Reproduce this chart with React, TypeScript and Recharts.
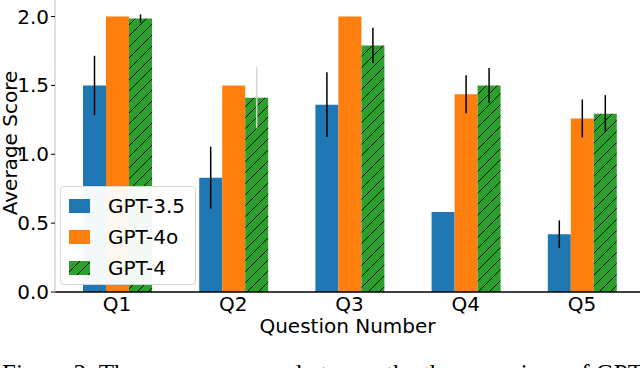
import React from 'react';
import {
  BarChart,
  Bar,
  XAxis,
  YAxis,
  ErrorBar,
  Legend,
} from 'recharts';

const categories = ['Q1', 'Q2', 'Q3', 'Q4', 'Q5'];
const gpt35 = [1.5, 0.83, 1.36, 0.58, 0.42];
const gpt35Err = [0.215, 0.225, 0.235, 0, 0.1];
const gpt4o = [2.0, 1.5, 2.0, 1.435, 1.26];
const gpt4oErr = [0, 0, 0, 0.138, 0.138];
const gpt4 = [1.985, 1.41, 1.79, 1.5, 1.295];
const gpt4Err = [0.03, 0, 0.128, 0.127, 0.134];
// Q2 / GPT-4 whisker is drawn very faint in the source
const gpt4ErrFaint = [0, 0.222, 0, 0, 0];
const yTicks = [0, 0.5, 1.0, 1.5, 2.0];

const BLUE = '#1f77b4';
const ORANGE = '#ff7f0e';
const GREEN = '#2ca02c';
const FONT = '"DejaVu Sans", Verdana, sans-serif';
const FS = 20;

const data = categories.map((q, i) => ({
  q,
  gpt35: gpt35[i],
  gpt35Err: gpt35Err[i],
  gpt4o: gpt4o[i],
  gpt4oErr: gpt4oErr[i],
  gpt4: gpt4[i],
  gpt4Err: gpt4Err[i],
  gpt4ErrFaint: gpt4ErrFaint[i],
}));

const legendItems = [
  { name: 'GPT-3.5', fill: BLUE },
  { name: 'GPT-4o', fill: ORANGE },
  { name: 'GPT-4', fill: 'url(#hatchLegend)' },
];

function HatchDef({ id }: { id: string }) {
  return (
    <pattern id={id} patternUnits="userSpaceOnUse" width={11} height={11}>
      <rect width={11} height={11} fill={GREEN} />
      <path
        d="M0,11 L11,0 M-2.75,2.75 L2.75,-2.75 M8.25,13.75 L13.75,8.25"
        stroke="#000"
        strokeWidth={0.9}
      />
    </pattern>
  );
}

function LegendBox() {
  return (
    <div
      style={{
        width: 136,
        height: 99,
        boxSizing: 'border-box',
        border: '1px solid #d6d6d6',
        borderRadius: 4,
        background: 'rgba(255,255,255,0.95)',
        fontFamily: FONT,
        fontSize: FS,
        color: '#000',
        paddingTop: 3,
      }}
    >
      {legendItems.map((it) => (
        <div
          key={it.name}
          style={{ display: 'flex', alignItems: 'center', height: 31 }}
        >
          <svg width={21} height={14} style={{ marginLeft: 8, marginRight: 18 }}>
            <defs>
              <HatchDef id="hatchLegend" />
            </defs>
            <rect width={21} height={14} fill={it.fill} />
          </svg>
          <span>{it.name}</span>
        </div>
      ))}
    </div>
  );
}

export default function App() {
  return (
    <div style={{ position: 'absolute', left: 0, top: 0, width: 640, height: 368, overflow: 'hidden', background: '#fff' }}>
      <BarChart
        width={640}
        height={340}
        data={data}
        margin={{ top: 0, right: 0, bottom: 0, left: 0 }}
        barSize={23}
        barGap={0}
      >
        <defs>
          <HatchDef id="hatchBar" />
        </defs>
        <XAxis
          dataKey="q"
          height={48}
          padding={{ left: 4, right: 0 }}
          tickLine={false}
          tickSize={0}
          tickMargin={5}
          axisLine={{ stroke: '#000', strokeWidth: 1.3 }}
          tick={{ fill: '#000', fontSize: FS, fontFamily: FONT }}
          label={{
            content: ({ viewBox }: any) => (
              <text
                x={viewBox.x + viewBox.width / 2}
                y={viewBox.y + 34}
                textAnchor="middle"
                dominantBaseline="central"
                fontSize={FS}
                fontFamily={FONT}
                fill="#000"
              >
                Question Number
              </text>
            ),
          }}
        />
        <YAxis
          width={55}
          domain={[0, 2.12]}
          ticks={yTicks}
          allowDataOverflow
          tickSize={4}
          tickMargin={2}
          tickFormatter={(v: number) => v.toFixed(1)}
          axisLine={{ stroke: '#d0d0d0', strokeWidth: 1.3 }}
          tickLine={{ stroke: '#000' }}
          tick={{ fill: '#000', fontSize: FS, fontFamily: FONT }}
          label={{
            content: ({ viewBox }: any) => {
              const cx = 10;
              const cy = viewBox.y + viewBox.height / 2 - 3;
              return (
                <text
                  x={cx}
                  y={cy}
                  transform={`rotate(-90 ${cx} ${cy})`}
                  textAnchor="middle"
                  dominantBaseline="central"
                  fontSize={FS}
                  fontFamily={FONT}
                  fill="#000"
                >
                  Average Score
                </text>
              );
            },
          }}
        />
        <Bar dataKey="gpt35" name="GPT-3.5" fill={BLUE} isAnimationActive={false}>
          <ErrorBar dataKey="gpt35Err" width={0} stroke="#000" strokeWidth={1.5} direction="y" />
        </Bar>
        <Bar dataKey="gpt4o" name="GPT-4o" fill={ORANGE} isAnimationActive={false}>
          <ErrorBar dataKey="gpt4oErr" width={0} stroke="#000" strokeWidth={1.5} direction="y" />
        </Bar>
        <Bar dataKey="gpt4" name="GPT-4" fill="url(#hatchBar)" isAnimationActive={false}>
          <ErrorBar dataKey="gpt4Err" width={0} stroke="#000" strokeWidth={1.5} direction="y" />
          <ErrorBar dataKey="gpt4ErrFaint" width={0} stroke="#d4d4d4" strokeWidth={1.5} direction="y" />
        </Bar>
        <Legend
          layout="horizontal"
          align="center"
          verticalAlign="middle"
          content={() => <LegendBox />}
          wrapperStyle={{ position: 'absolute', left: 60, top: 186, width: 136, height: 99 }}
        />
      </BarChart>
      <div
        style={{
          position: 'absolute',
          left: 2,
          top: 361,
          whiteSpace: 'nowrap',
          fontFamily: '"Liberation Serif", "Times New Roman", serif',
          fontSize: 25,
          lineHeight: '25px',
          color: '#000',
        }}
      >
        Figure 3: The average scores between the three versions of GPT
      </div>
    </div>
  );
}
